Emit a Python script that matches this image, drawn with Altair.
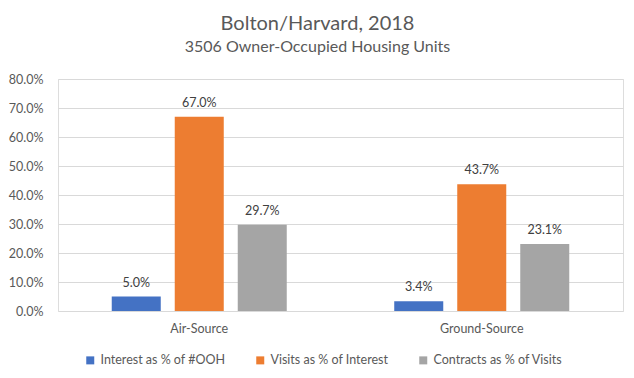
import altair as alt
import pandas as pd

categories = ["Air-Source", "Ground-Source"]
series = ["Interest as % of #OOH", "Visits as % of Interest", "Contracts as % of Visits"]
interest = [0.050, 0.034]
visits = [0.670, 0.437]
contracts = [0.297, 0.231]
colors = ["#4472C4", "#ED7D31", "#A5A5A5"]
y_ticks = [0.0, 0.1, 0.2, 0.3, 0.4, 0.5, 0.6, 0.7, 0.8]

rows = []
for i, c in enumerate(categories):
    for s, vals in zip(series, [interest, visits, contracts]):
        rows.append({"category": c, "series": s, "value": vals[i]})
df = pd.DataFrame(rows)

FONT = "Lato"
TXT = "#595959"

x = alt.X("category:N", sort=categories,
          scale=alt.Scale(paddingInner=0, paddingOuter=0),
          axis=alt.Axis(title=None, labelAngle=0, ticks=False, domain=False,
                        labelPadding=11, labelFontSize=12.5, labelColor=TXT,
                        labelFont=FONT, grid=False, gridColor="transparent",
                        domainColor="transparent", tickColor="transparent"))
xo = alt.XOffset("series:N", sort=series,
                 scale=alt.Scale(paddingInner=0.222, paddingOuter=0.853))
y = alt.Y("value:Q", scale=alt.Scale(domain=[0, 0.8], nice=False),
          axis=alt.Axis(values=y_ticks, format=".1%", title=None, ticks=False,
                        domain=False, domainColor="transparent",
                        tickColor="transparent", labelPadding=15,
                        labelFontSize=12.5, labelColor=TXT, labelFont=FONT,
                        gridColor="#D9D9D9", gridWidth=1, labelOverlap=False))

color = alt.Color("series:N", sort=series,
                  scale=alt.Scale(domain=series, range=colors),
                  legend=alt.Legend(title=None, orient="none", direction="horizontal",
                                    legendX=26, legendY=275, symbolType="square",
                                    symbolSize=64, symbolStrokeWidth=0,
                                    labelFontSize=12.5, labelFont=FONT,
                                    labelColor=TXT, columnPadding=28,
                                    labelOffset=4))

base = alt.Chart(df).encode(x=x, xOffset=xo, y=y)
bars = base.mark_bar().encode(color=color)
labels = base.mark_text(baseline="bottom", dy=-7, fontSize=12.5, font=FONT,
                        color="#404040").encode(
    text=alt.Text("value:Q", format=".1%"))

chart = (bars + labels).properties(
    width=565, height=232,
    autosize=alt.AutoSizeParams(type="none"),
    padding={"left": 50, "top": 71, "right": 3, "bottom": 59},
    title=alt.Title("Bolton/Harvard, 2018",
                    subtitle="3506 Owner-Occupied Housing Units",
                    fontSize=20, subtitleFontSize=16, color=TXT,
                    subtitleColor=TXT, font=FONT, subtitleFont=FONT,
                    fontWeight="normal", anchor="middle", dx=-23,
                    offset=18, subtitlePadding=5),
).configure_view(strokeWidth=0, stroke="transparent", fill="transparent").configure_axis(
    domain=False, domainColor="transparent"
).configure_axisX(grid=False, gridColor="transparent", domain=False).configure(background="white")

chart.save("out.html", embed_options={"renderer": "svg", "actions": False})
